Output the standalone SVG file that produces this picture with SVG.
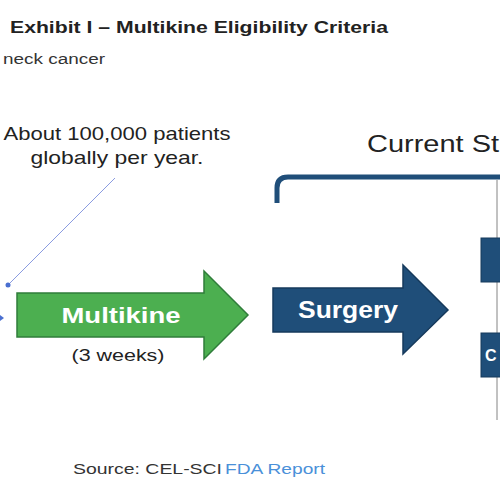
<svg xmlns="http://www.w3.org/2000/svg" width="500" height="500" viewBox="0 0 500 500">
<defs>
<style>
.t{font-family:"Liberation Sans",Arial,sans-serif;}
.dark{fill:#222;}
.lbl{fill:#fff;font-weight:bold;text-anchor:middle;}
.green{fill:#4caf50;stroke:#2f7d3a;stroke-width:1.5;}
.navy{fill:#1f4e79;stroke:#163a5c;stroke-width:1.5;}
</style>
</defs>
<rect width="500" height="500" fill="#fff"/>
<text class="t dark" x="10" y="33" font-size="17" font-weight="bold" textLength="378" lengthAdjust="spacingAndGlyphs">Exhibit I – Multikine Eligibility Criteria</text>
<text class="t" x="3" y="64" font-size="14" fill="#333" textLength="102" lengthAdjust="spacingAndGlyphs">neck cancer</text>
<g id="note">
<text class="t dark" x="117" y="140" font-size="19" text-anchor="middle" textLength="227" lengthAdjust="spacingAndGlyphs">About 100,000 patients</text>
<text class="t dark" x="117" y="164" font-size="19" text-anchor="middle" textLength="173" lengthAdjust="spacingAndGlyphs">globally per year.</text>
</g>
<g id="connectors">
<line x1="115" y1="178" x2="8" y2="285" stroke="#8a9be0" stroke-width="1"/>
<circle cx="8" cy="285" r="2.5" fill="#4a6fd0"/>
<path d="M0,315 L4,318 L0,321 Z" fill="#4a6fd0"/>
<path d="M277,203 L277,188 Q277,177 288,177 L500,177" fill="none" stroke="#1f4e79" stroke-width="5"/>
<line x1="497" y1="180" x2="497" y2="420" stroke="#666" stroke-width="0.8"/>
</g>
<g id="current">
<text class="t dark" x="367" y="152" font-size="24" textLength="132" lengthAdjust="spacingAndGlyphs">Current St</text>
</g>
<g id="multikine">
<path class="green" d="M17,293 L204,293 L204,271 L248,315 L204,359 L204,337 L17,337 Z"/>
<text class="t lbl" x="121" y="323" font-size="22" textLength="119" lengthAdjust="spacingAndGlyphs">Multikine</text>
<text class="t dark" x="118" y="361" font-size="16" text-anchor="middle" textLength="93" lengthAdjust="spacingAndGlyphs">(3 weeks)</text>
</g>
<g id="surgery">
<path class="navy" d="M273,288 L403,288 L403,265 L448,310 L403,354 L403,332 L273,332 Z"/>
<text class="t lbl" x="348" y="318" font-size="23" textLength="100" lengthAdjust="spacingAndGlyphs">Surgery</text>
</g>
<g id="box1">
<rect x="481" y="238" width="22" height="44" fill="#1f4e79" stroke="#163a5c"/>
</g>
<g id="box2">
<rect x="481" y="333" width="22" height="44" fill="#1f4e79" stroke="#163a5c"/>
<text class="t" x="485" y="361" font-size="16" font-weight="bold" fill="#fff">C</text>
</g>
<g id="source">
<text class="t" x="73" y="474" font-size="15" fill="#333" textLength="149" lengthAdjust="spacingAndGlyphs">Source: CEL-SCI</text>
<text class="t" x="225" y="474" font-size="15" fill="#4a90d9" textLength="100" lengthAdjust="spacingAndGlyphs">FDA Report</text>
</g>
</svg>
